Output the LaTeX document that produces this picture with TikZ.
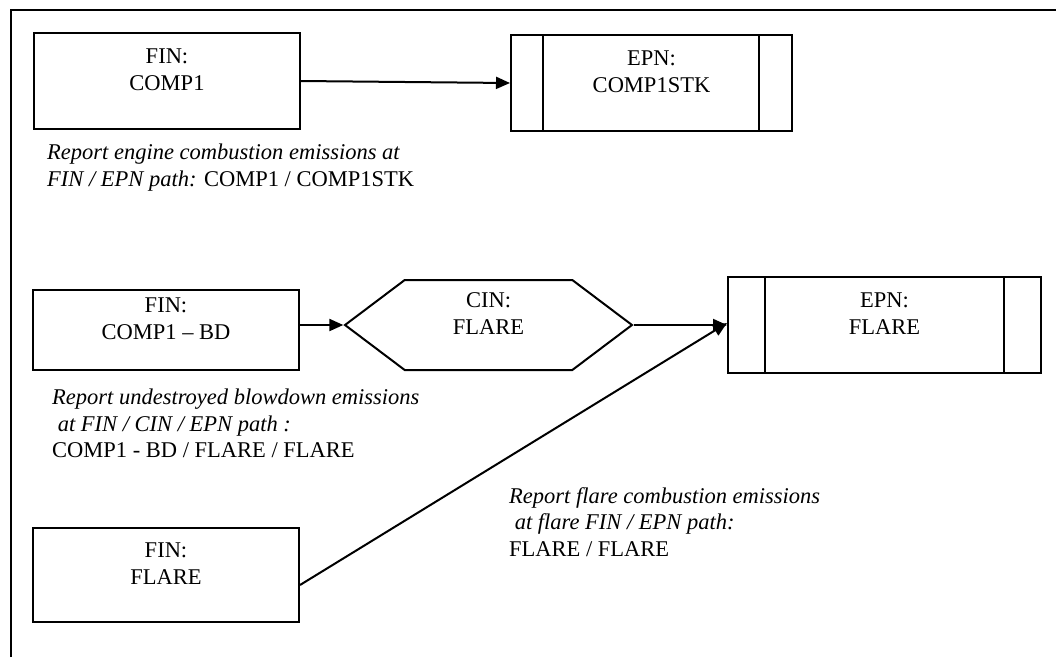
\documentclass[tikz,border=0pt]{standalone}
\usepackage{fontspec}
\setmainfont{Liberation Serif}
\usepackage{tikz}
\usetikzlibrary{calc,positioning,arrows.meta,shapes.symbols}
\tikzset{
  fin/.style={rectangle,draw=black,line width=2pt,minimum width=266pt,inner sep=0pt,align=center,font=\fontsize{22.5}{27}\selectfont,text depth=22pt},
  epn/.style={fin,minimum height=96pt},
  cin/.style={signal,signal to=west and east,signal pointer angle=74,draw=black,line width=2pt,minimum width=287pt,minimum height=90pt,inner sep=0pt,align=center,font=\fontsize{22.5}{27}\selectfont,text depth=22pt},
  note/.style={anchor=north west,align=left,inner sep=0pt,font=\fontsize{22.5}{26.5}\selectfont},
  flow/.style={-{Triangle[length=14pt,width=12pt]},line width=2pt},
  frame/.style={line width=2pt},
}

\begin{document}
\begin{tikzpicture}[x=1pt,y=-1pt]
  \useasboundingbox (0,0) rectangle (1056,657);
  \draw[frame] (11,657)--(11,10)--(1056,10);

  \node[fin,minimum height=96pt] (finA) at (167,81) {FIN:\\COMP1};
  \node[epn,minimum width=281pt] (epnA) at (651.5,83) {EPN:\\COMP1STK};
  \draw[line width=2pt] ([xshift=33pt]epnA.north west)--([xshift=33pt]epnA.south west);
  \draw[line width=2pt] ([xshift=-34pt]epnA.north east)--([xshift=-34pt]epnA.south east);
  \draw[flow] (finA.east)--(epnA.west);
  \node[note] (noteA) at (47,144) {\textit{Report engine combustion emissions at}\\\textit{FIN / EPN path:} COMP1 / COMP1STK};

  \node[fin,minimum height=80pt] (finB) at (166,330) {FIN:\\COMP1 -- BD};
  \node[cin] (cin) at (488.5,325) {CIN:\\FLARE};
  \node[epn,minimum width=313pt] (epnB) at (884.5,325) {EPN:\\FLARE};
  \draw[line width=2pt] ([xshift=38pt]epnB.north west)--([xshift=38pt]epnB.south west);
  \draw[line width=2pt] ([xshift=-38pt]epnB.north east)--([xshift=-38pt]epnB.south east);
  \draw[flow] (finB.east |- cin.west)--(cin.west);
  \draw[flow] (cin.east)--(epnB.west);
  \node[note] (noteB) at (52,389) {\textit{Report undestroyed blowdown emissions}\\\textit{\ at FIN / CIN / EPN path :}\\COMP1 - BD / FLARE / FLARE};

  \node[fin,minimum height=94pt] (finC) at (166,575) {FIN:\\FLARE};
  \draw[flow] ([yshift=-10pt]finC.east)--([yshift=2pt]epnB.west);
  \node[note] (noteC) at (509,487) {\textit{Report flare combustion emissions}\\\textit{\ at flare FIN / EPN path:}\\FLARE / FLARE};
\end{tikzpicture}
\end{document}
